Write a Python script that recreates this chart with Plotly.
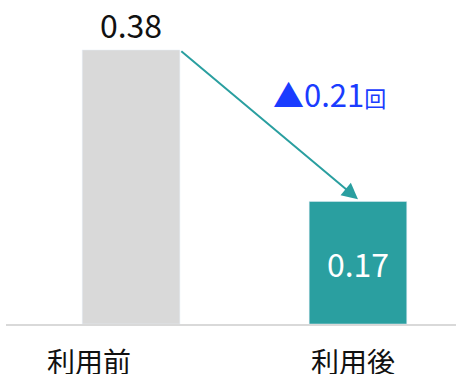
import plotly.graph_objects as go

categories = ["利用前", "利用後"]
values = [0.38, 0.17]
bar_colors = ["#d9d9d9", "#2a9fa0"]
text_colors = ["#111111", "#ffffff"]
label_shift = [-42, -5]

diff = values[0] - values[1]
diff_label = f"▲{diff:.2f}<span style='font-size:22px'>回</span>"

FONT = "Noto Sans CJK JP"
x = list(range(len(categories)))

fig = go.Figure()
fig.add_trace(go.Bar(
    x=x, y=values, marker_color=bar_colors, width=0.43,
    text=[f"{v:.2f}" for v in values],
    textposition=["outside", "inside"],
    insidetextanchor="middle",
    textfont=dict(family=FONT, size=32, color=text_colors),
    outsidetextfont=dict(family=FONT, size=32, color="#111111"),
    cliponaxis=False,
))

# arrow from top-right of first bar to top of second bar
fig.add_annotation(
    x=x[1], y=values[1] + 0.003, ax=x[0] + 0.215, ay=values[0],
    xref="x", yref="y", axref="x", ayref="y",
    showarrow=True, arrowhead=2, arrowsize=1.6, arrowwidth=2,
    arrowcolor="#2a9fa0", text="",
)
fig.add_annotation(
    x=0.876, y=0.32, xref="x", yref="y", showarrow=False,
    text=diff_label, font=dict(family=FONT, size=31, color="#1a3cff"),
)

for xi, cat, sh in zip(x, categories, label_shift):
    fig.add_annotation(
        x=xi, y=0, xref="x", yref="paper", yanchor="top",
        yshift=-15, xshift=sh, showarrow=False, text=cat,
        font=dict(family=FONT, size=28, color="#111111"),
    )

fig.update_layout(
    width=457, height=374,
    margin=dict(l=6, r=1, t=0, b=50),
    paper_bgcolor="white", plot_bgcolor="white",
    showlegend=False,
)
fig.update_xaxes(
    range=[-0.551, 1.432], tickvals=x, showticklabels=False,
    showline=True, linecolor="#d9d9d9", linewidth=2,
    showgrid=False, zeroline=False, ticks="",
)
fig.update_yaxes(range=[0, 0.4494], visible=False, showgrid=False)

fig.write_html("out.html")
